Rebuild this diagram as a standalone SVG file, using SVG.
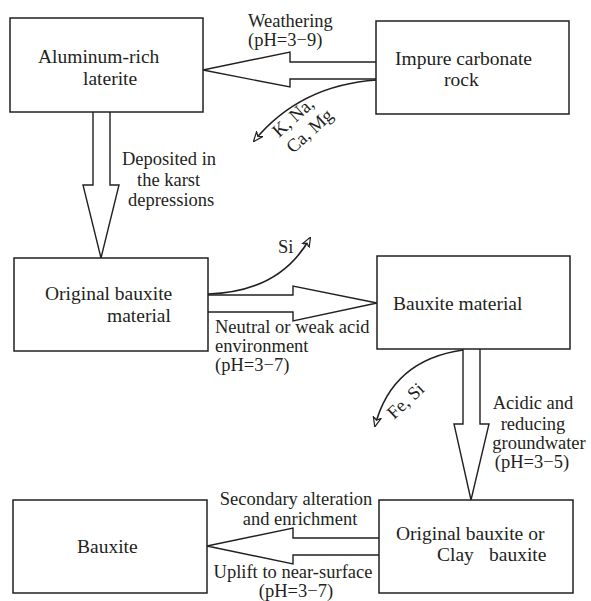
<svg xmlns="http://www.w3.org/2000/svg" width="591" height="601" viewBox="0 0 591 601">
<style>
  .box { fill: #ffffff; stroke: #231f20; stroke-width: 1.5; }
  .arrow { fill: #ffffff; stroke: #231f20; stroke-width: 1.4; stroke-linejoin: miter; }
  .curve { fill: none; stroke: #231f20; stroke-width: 1.6; marker-end: url(#open); }
  .t { font-family: "Liberation Serif", "Times New Roman", serif; font-size: 19.5px; fill: #231f20; }
  .l { font-family: "Liberation Serif", "Times New Roman", serif; font-size: 18.5px; fill: #231f20; }
</style>
<defs>
  <marker id="open" viewBox="0 0 10 10" refX="9" refY="5" markerWidth="10" markerHeight="10" markerUnits="userSpaceOnUse" orient="auto">
    <path d="M0,1 L10,5 L0,9 L3,5 z" fill="#ffffff" stroke="#231f20" stroke-width="1.2"/>
  </marker>
</defs>
<rect width="591" height="601" fill="#ffffff"/>

<g id="connectors">
  <path class="arrow" d="M376,62 L290,62 L290,52 L203,70 L290,87 L290,79 L376,79"/>
  <path class="arrow" d="M93,112 L93,185 L83,185 L101,258 L119,185 L110,185 L110,112"/>
  <path class="arrow" d="M208,295 L293,295 L293,286 L377,303 L293,321 L293,312 L208,312"/>
  <path class="arrow" d="M463,349 L463,424 L454,424 L471,500 L489,424 L480,424 L480,349"/>
  <path class="arrow" d="M379,538 L293,538 L293,528 L207,546 L293,564 L293,555 L379,555"/>
  <path class="curve" d="M377,80 Q300,85 254,141"/>
  <path class="curve" d="M208,294 Q280,292 310,238"/>
  <path class="curve" d="M463,350 Q392,360 375,426"/>

  <text class="l" x="248" y="27">Weathering</text>
  <text class="l" x="248" y="46">(pH=3−9)</text>
  <text class="l" transform="translate(279,138) rotate(-42)">K, Na,</text>
  <text class="l" transform="translate(293,154) rotate(-42)">Ca, Mg</text>
  <text class="l" x="122" y="165">Deposited in</text>
  <text class="l" x="137" y="186">the karst</text>
  <text class="l" x="128" y="206">depressions</text>
  <text class="l" x="278" y="253">Si</text>
  <text class="l" x="215" y="333">Neutral or weak acid</text>
  <text class="l" x="215" y="352">environment</text>
  <text class="l" x="215" y="371">(pH=3−7)</text>
  <text class="l" transform="translate(394,420) rotate(-43)">Fe, Si</text>
  <text class="l" x="533" y="409" text-anchor="middle">Acidic and</text>
  <text class="l" x="533" y="430" text-anchor="middle">reducing</text>
  <text class="l" x="539" y="449" text-anchor="middle">groundwater</text>
  <text class="l" x="532" y="468" text-anchor="middle">(pH=3−5)</text>
  <text class="l" x="296" y="505" text-anchor="middle">Secondary alteration</text>
  <text class="l" x="300" y="525" text-anchor="middle">and enrichment</text>
  <text class="l" x="293" y="578" text-anchor="middle">Uplift to near-surface</text>
  <text class="l" x="296" y="597" text-anchor="middle">(pH=3−7)</text>
</g>

<g id="node-laterite">
  <rect class="box" x="10" y="18" width="193" height="94"/>
  <text class="t" x="38" y="63">Aluminum-rich</text>
  <text class="t" x="83" y="85">laterite</text>
</g>
<g id="node-carbonate">
  <rect class="box" x="376" y="21" width="193" height="93"/>
  <text class="t" x="395" y="65">Impure carbonate</text>
  <text class="t" x="444" y="86">rock</text>
</g>
<g id="node-original">
  <rect class="box" x="14" y="258" width="194" height="93"/>
  <text class="t" x="45" y="300">Original bauxite</text>
  <text class="t" x="107" y="322">material</text>
</g>
<g id="node-material">
  <rect class="box" x="377" y="256" width="193" height="93"/>
  <text class="t" x="393" y="310">Bauxite material</text>
</g>
<g id="node-clay">
  <rect class="box" x="379" y="500" width="194" height="93"/>
  <text class="t" x="396" y="540">Original bauxite or</text>
  <text class="t" x="437" y="561">Clay<tspan x="489">bauxite</tspan></text>
</g>
<g id="node-bauxite">
  <rect class="box" x="13" y="500" width="194" height="93"/>
  <text class="t" x="77" y="553">Bauxite</text>
</g>
</svg>
